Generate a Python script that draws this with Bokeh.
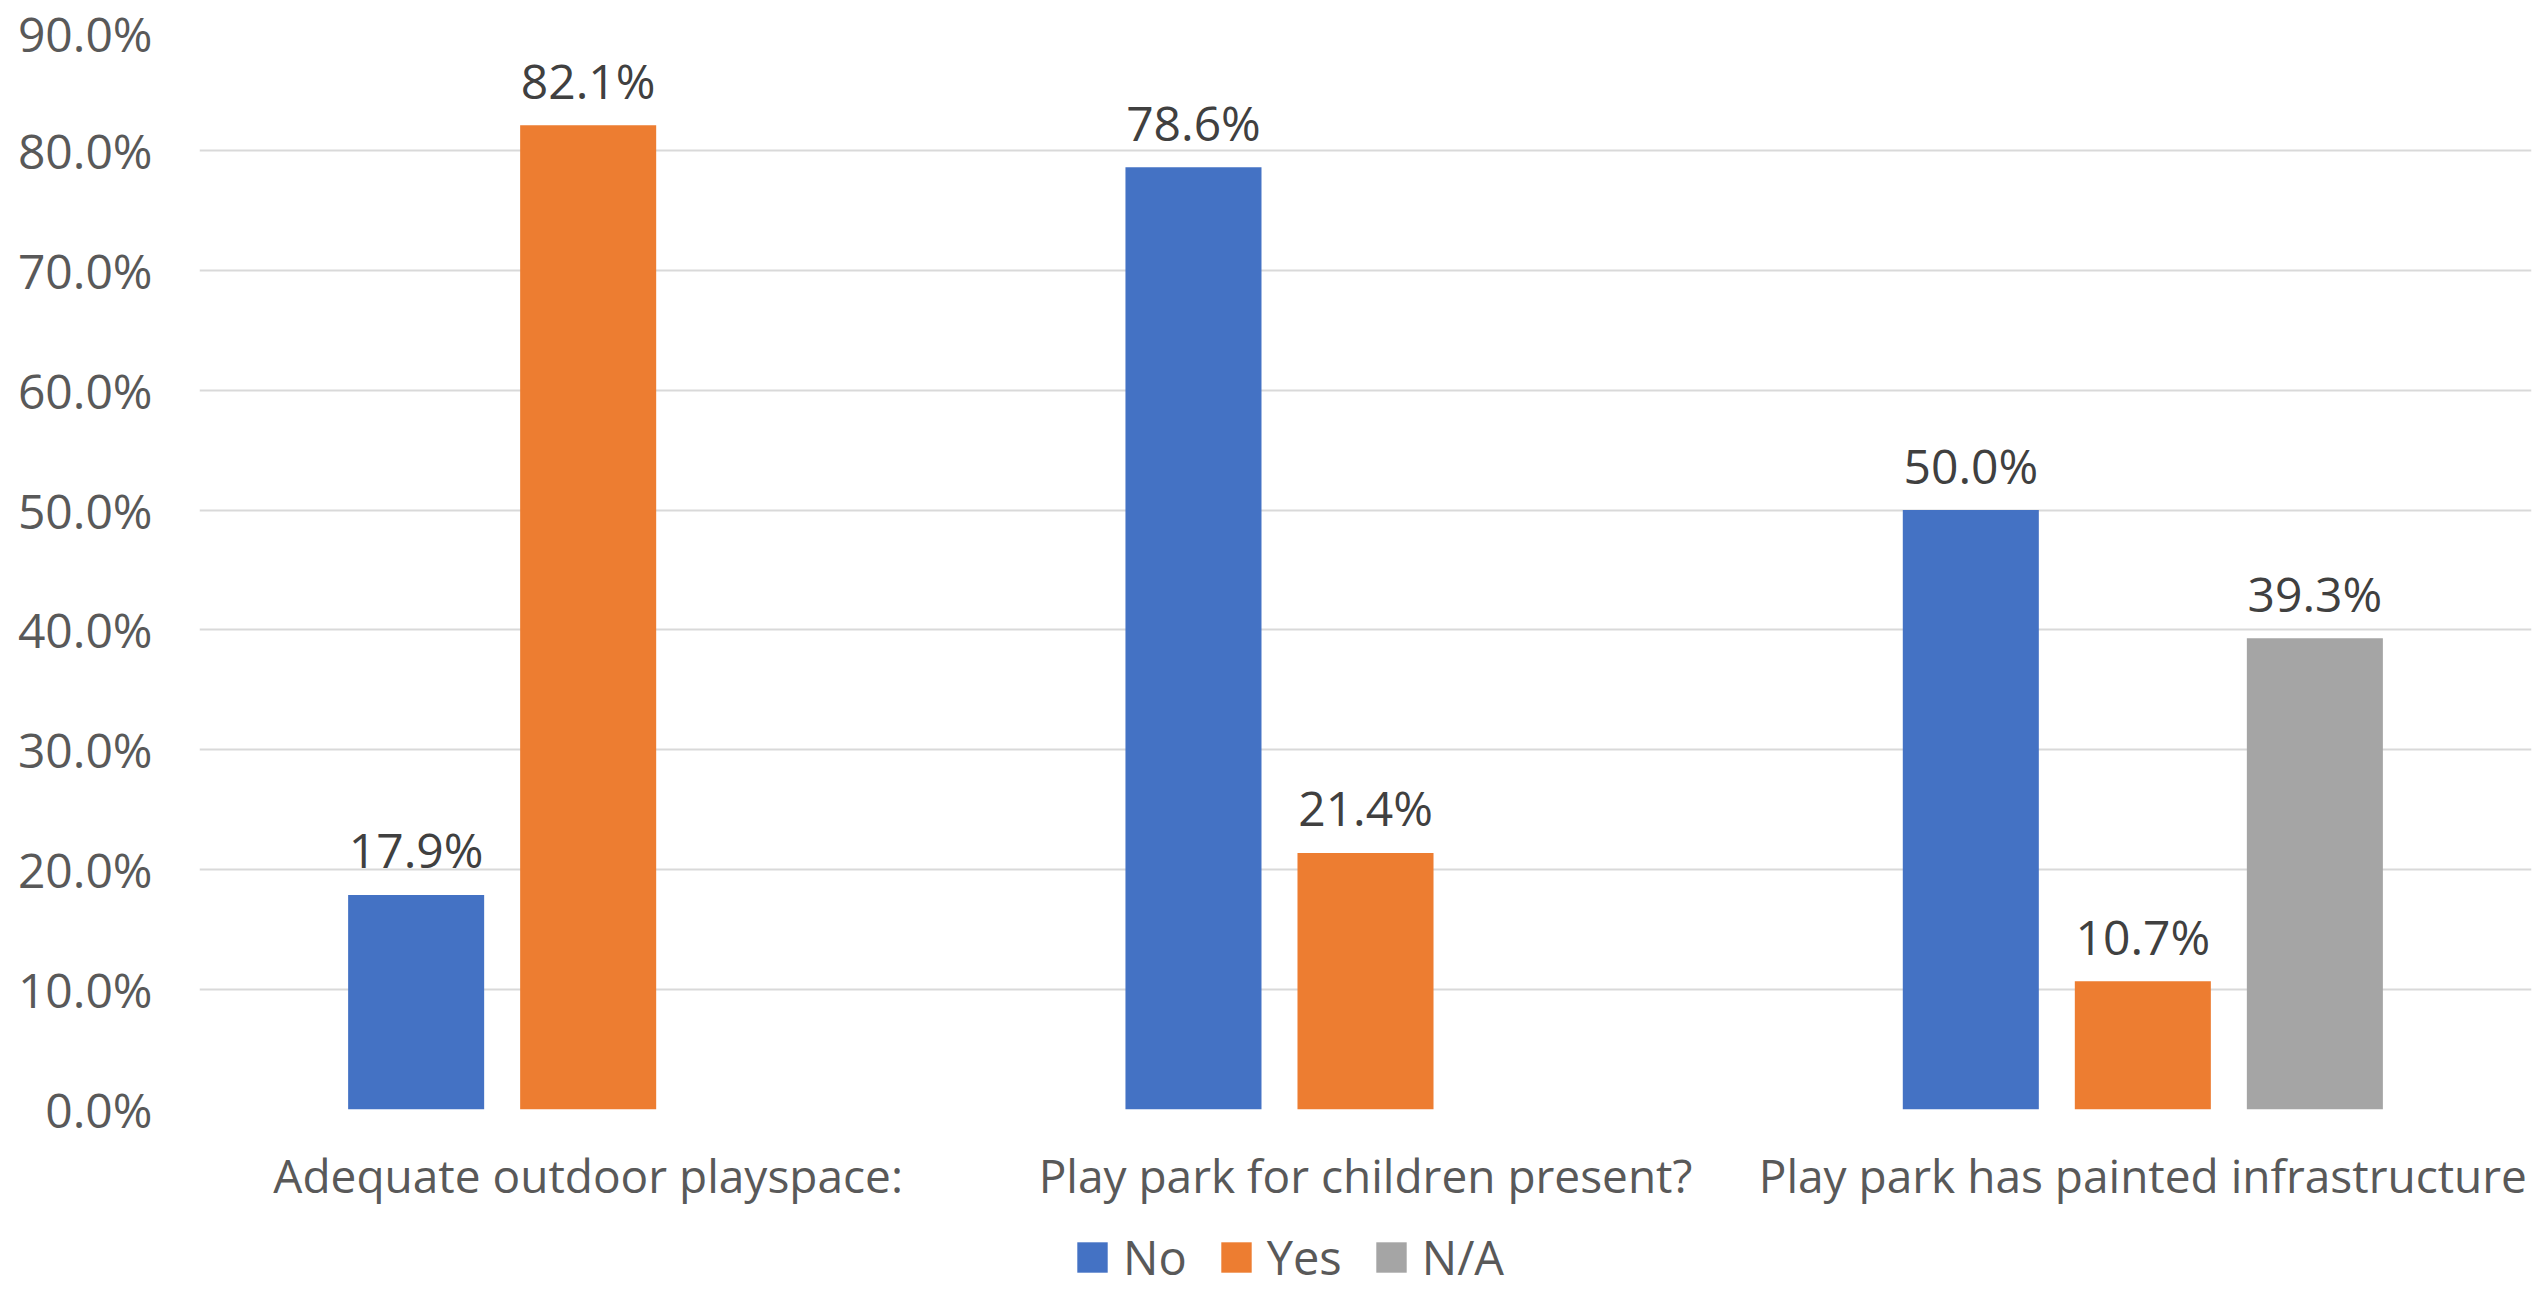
from bokeh.plotting import figure
from bokeh.models import (ColumnDataSource, FactorRange, Range1d, Legend, LegendItem,
                          NumeralTickFormatter, FixedTicker)
from bokeh.layouts import column
from bokeh.transform import dodge
from bokeh.core.properties import value
from bokeh.embed import file_html
from bokeh.resources import INLINE

# ---- data ----
categories = ["Adequate outdoor playspace:",
              "Play park for children present?",
              "Play park has painted infrastructure"]
series = ["No", "Yes", "N/A"]
no_vals = [0.179, 0.786, 0.500]
yes_vals = [0.821, 0.214, 0.107]
na_categories = ["Play park has painted infrastructure"]
na_vals = [0.393]
y_ticks = [0.0, 0.1, 0.2, 0.3, 0.4, 0.5, 0.6, 0.7, 0.8, 0.9]

colors = {"No": "#4472C4", "Yes": "#ED7D31", "N/A": "#A5A5A5"}
FONT = "Open Sans"


def pct(v):
    return f"{v * 100:.1f}%"


src_no = ColumnDataSource(dict(cat=categories, val=no_vals, lbl=[pct(v) for v in no_vals]))
src_yes = ColumnDataSource(dict(cat=categories, val=yes_vals, lbl=[pct(v) for v in yes_vals]))
src_na = ColumnDataSource(dict(cat=na_categories, val=na_vals, lbl=[pct(v) for v in na_vals]))

W_TOTAL = 2542
H_MAIN = 1220
H_LEG = 1289 - H_MAIN

p = figure(x_range=FactorRange(*categories), y_range=Range1d(0, 0.9),
           width=W_TOTAL, height=H_MAIN, output_backend="svg", toolbar_location=None,
           min_border_left=199, min_border_right=11, min_border_top=30,
           min_border_bottom=H_MAIN - 1109)
p.outline_line_color = None
p.background_fill_color = "white"
p.border_fill_color = "white"

OFF = 0.2213
W = 0.175
p.vbar(x=dodge("cat", -OFF, range=p.x_range), top="val", width=W, source=src_no,
       fill_color=colors["No"], line_color=None)
p.vbar(x=dodge("cat", 0, range=p.x_range), top="val", width=W, source=src_yes,
       fill_color=colors["Yes"], line_color=None)
p.vbar(x=dodge("cat", OFF, range=p.x_range), top="val", width=W, source=src_na,
       fill_color=colors["N/A"], line_color=None)

for off, src in ((-OFF, src_no), (0, src_yes), (OFF, src_na)):
    p.text(x=dodge("cat", off, range=p.x_range), y="val", text="lbl", source=src,
           text_font=value(FONT), text_font_size="48px", text_color="#404040",
           text_align="center", text_baseline="middle", y_offset=-45)

# y axis
p.yaxis.ticker = FixedTicker(ticks=y_ticks)
p.yaxis.formatter = NumeralTickFormatter(format="0.0%")
p.yaxis.axis_line_color = None
p.yaxis.major_tick_line_color = None
p.yaxis.minor_tick_line_color = None
p.yaxis.major_tick_out = 0
p.yaxis.major_label_standoff = 47
p.yaxis.major_label_text_font = FONT
p.yaxis.major_label_text_font_size = "48px"
p.yaxis.major_label_text_color = "#595959"

# x axis
p.xaxis.axis_line_color = None
p.xaxis.major_tick_line_color = None
p.xaxis.minor_tick_line_color = None
p.xaxis.major_tick_out = 0
p.xaxis.major_label_standoff = 34
p.xaxis.major_label_text_font = FONT
p.xaxis.major_label_text_font_size = "46px"
p.xaxis.major_label_text_color = "#595959"

p.xgrid.grid_line_color = None
p.ygrid.grid_line_color = "#D9D9D9"
p.ygrid.grid_line_width = 2

# legend strip below the chart
lf = figure(width=W_TOTAL, height=H_LEG, x_range=Range1d(0, 1), y_range=Range1d(0, 1),
            output_backend="svg", toolbar_location=None,
            x_axis_location=None, y_axis_location=None,
            min_border_left=0, min_border_right=0, min_border_top=0, min_border_bottom=0)
lf.grid.grid_line_color = None
lf.outline_line_color = None
lf.background_fill_color = "white"
lf.border_fill_color = "white"
leg_renderers = [lf.vbar(x=[-5], top=[0], width=0.1, fill_color=colors[s], line_color=None)
                 for s in series]
legend = Legend(items=[LegendItem(label=s, renderers=[r]) for s, r in zip(series, leg_renderers)],
                orientation="horizontal", location=(874, 0),
                glyph_width=38, glyph_height=38, label_standoff=12, spacing=30,
                padding=0, margin=0, border_line_color=None, background_fill_alpha=0,
                label_text_font=FONT, label_text_font_size="47px", label_text_color="#595959")
lf.add_layout(legend, "center")

open("out.html", "w").write(file_html(column(p, lf, spacing=0), INLINE))
